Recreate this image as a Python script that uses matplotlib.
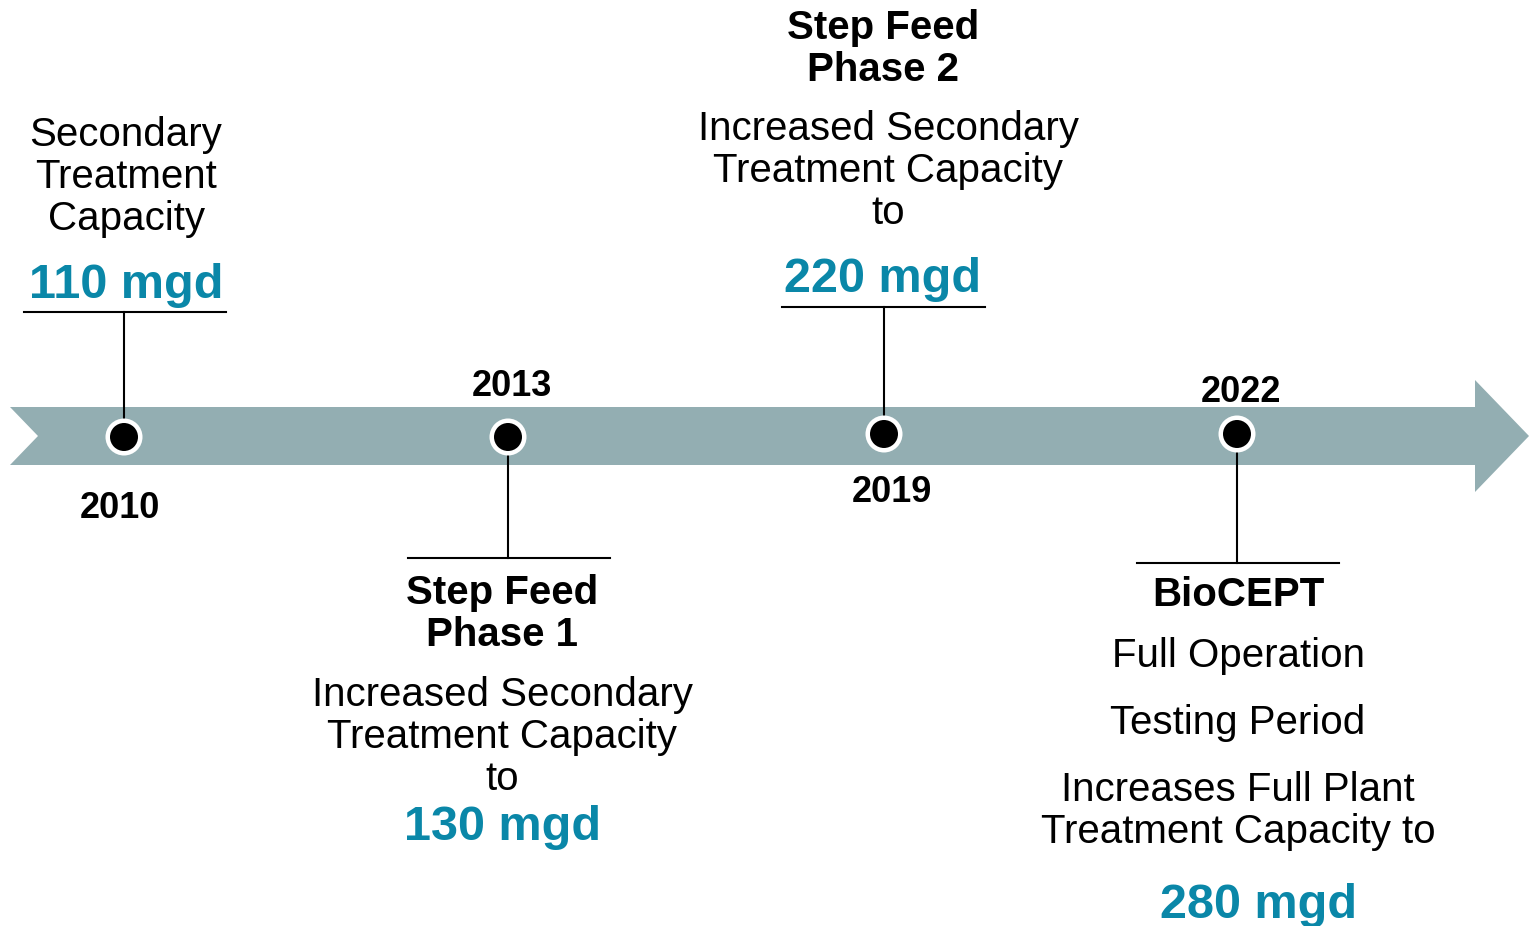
import matplotlib.pyplot as plt
from matplotlib.patches import Polygon, Circle

plt.rcParams['font.family'] = ['Liberation Sans', 'DejaVu Sans']

# colours
color_band = '#93AEB2'
color_blue = '#0A87A8'
color_text = '#000000'

# timeline data
years = ['2010', '2013', '2019', '2022']
capacities = ['110 mgd', '130 mgd', '220 mgd', '280 mgd']
titles = ['', 'Step Feed\nPhase 1', 'Step Feed\nPhase 2', 'BioCEPT']
descriptions = [
    ['Secondary\nTreatment\nCapacity'],
    ['Increased Secondary\nTreatment Capacity\nto'],
    ['Increased Secondary\nTreatment Capacity\nto'],
    ['Full Operation', 'Testing Period', 'Increases Full Plant\nTreatment Capacity to'],
]

# layout (pixel coordinates of the figure)
dot_x = [124, 508, 884, 1237]
dot_y = [437, 437, 434, 434]
year_xy = [(120, 509), (512, 386), (892, 493), (1241, 392)]
bar_y = [312, 558, 307, 563]
bar_x = [(24, 226), (408, 610), (782, 985), (1137, 1339)]

fig = plt.figure(figsize=(15.29, 9.26), dpi=100)
ax = fig.add_axes([0, 0, 1, 1])
ax.set_xlim(0, 1529)
ax.set_ylim(926, 0)
ax.axis('off')

# arrow band
band = Polygon([(10, 407), (1475, 407), (1475, 380), (1529, 436), (1475, 492),
                (1475, 465), (10, 465), (38, 436)], closed=True,
               facecolor=color_band, edgecolor='none', zorder=1)
ax.add_patch(band)

for i in range(len(years)):
    x, y = dot_x[i], dot_y[i]
    # connector lines
    ax.plot(bar_x[i], [bar_y[i], bar_y[i]], color=color_text, lw=1.5, zorder=2)
    ax.plot([x, x], [y, bar_y[i]], color=color_text, lw=1.5, zorder=2)
    # dot with white ring
    ax.add_patch(Circle((x, y), 18.5, facecolor='white', edgecolor='none', zorder=3))
    ax.add_patch(Circle((x, y), 14, facecolor='black', edgecolor='none', zorder=4))
    ax.text(year_xy[i][0], year_xy[i][1], years[i], fontsize=26, fontweight='bold',
            ha='center', va='center', color=color_text)

reg = dict(fontsize=29, ha='center', va='center', color=color_text, linespacing=1.13)
bold = dict(fontsize=29, ha='center', va='center', color=color_text, fontweight='bold',
            linespacing=1.13)
big = dict(fontsize=35, ha='center', va='center', color=color_blue, fontweight='bold')

# 2010
ax.text(126, 177, descriptions[0][0], **reg)
ax.text(126, 286, capacities[0], **big)

# 2013
ax.text(502, 614, titles[1], **bold)
ax.text(502, 737, descriptions[1][0], **reg)
ax.text(502, 827, capacities[1], **big)

# 2019
ax.text(883, 49, titles[2], **bold)
ax.text(888, 171, descriptions[2][0], **reg)
ax.text(883, 279, capacities[2], **big)

# 2022
ax.text(1238, 595, titles[3], **bold)
ax.text(1238, 656, descriptions[3][0], **reg)
ax.text(1238, 723, descriptions[3][1], **reg)
ax.text(1238, 811, descriptions[3][2], **reg)
ax.text(1259, 905, capacities[3], **big)

fig.savefig('out.png', dpi=100)
